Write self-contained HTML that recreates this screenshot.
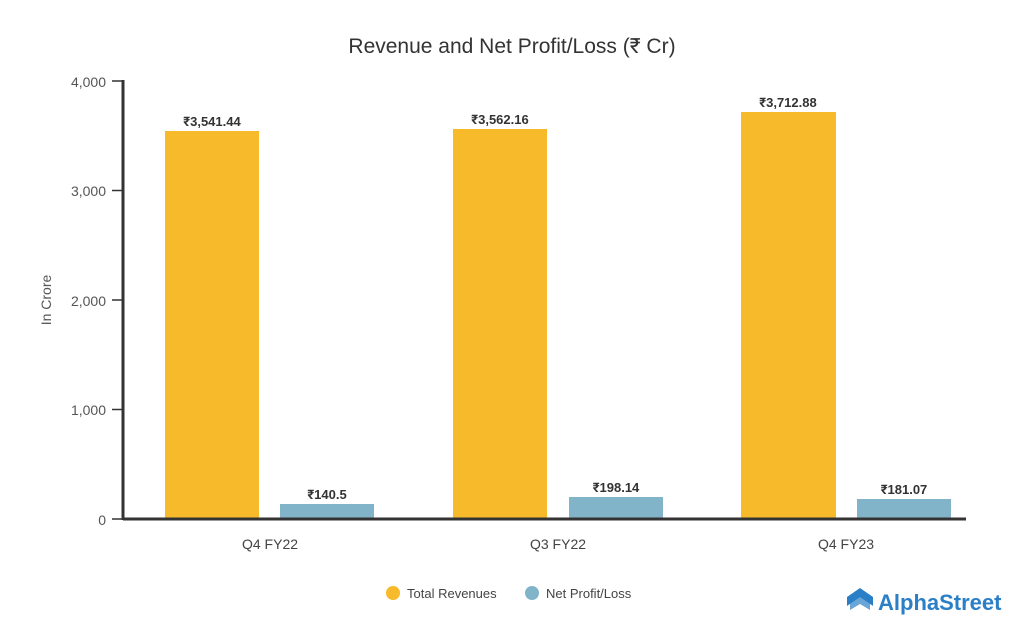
<!DOCTYPE html>
<html><head><meta charset="utf-8"><style>
body{margin:0;background:#fff;}
svg{display:block;font-family:"Liberation Sans",Roboto,sans-serif;}
</style></head><body>
<svg width="1024" height="640" viewBox="0 0 1024 640">
<text x="512" y="53" text-anchor="middle" font-size="21" fill="#333">Revenue and Net Profit/Loss (₹ Cr)</text>
<g font-size="14" fill="#555" text-anchor="end">
<text x="106" y="87">4,000</text>
<text x="106" y="196">3,000</text>
<text x="106" y="306">2,000</text>
<text x="106" y="415">1,000</text>
<text x="106" y="525">0</text>
</g>
<g stroke="#333" stroke-width="1.5">
<line x1="112" y1="81" x2="123" y2="81"/><line x1="112" y1="190.5" x2="123" y2="190.5"/>
<line x1="112" y1="300" x2="123" y2="300"/><line x1="112" y1="409.5" x2="123" y2="409.5"/>
<line x1="112" y1="519" x2="123" y2="519"/>
</g>
<line x1="123" y1="80" x2="123" y2="520" stroke="#333" stroke-width="3"/>
<text transform="translate(51,300) rotate(-90)" text-anchor="middle" font-size="14" fill="#555">In Crore</text>
<g fill="#F7BA2A">
<rect x="165" y="131" width="94" height="388"/>
<rect x="453" y="129" width="94" height="390"/>
<rect x="741" y="112" width="95" height="407"/>
</g>
<g fill="#82B4C9">
<rect x="280" y="504" width="94" height="15"/>
<rect x="569" y="497" width="94" height="22"/>
<rect x="857" y="499" width="94" height="20"/>
</g>
<line x1="123" y1="519" x2="966" y2="519" stroke="#333" stroke-width="3"/>
<g font-size="13" font-weight="bold" fill="#333" text-anchor="middle">
<text x="212" y="126">₹3,541.44</text>
<text x="500" y="124">₹3,562.16</text>
<text x="788" y="107">₹3,712.88</text>
<text x="327" y="499">₹140.5</text>
<text x="616" y="492">₹198.14</text>
<text x="904" y="494">₹181.07</text>
</g>
<g font-size="14" fill="#444" text-anchor="middle">
<text x="270" y="549">Q4 FY22</text>
<text x="558" y="549">Q3 FY22</text>
<text x="846" y="549">Q4 FY23</text>
</g>
<circle cx="393" cy="593" r="7" fill="#F7BA2A"/>
<text x="407" y="598" font-size="13" fill="#444">Total Revenues</text>
<circle cx="532" cy="593" r="7" fill="#82B4C9"/>
<text x="546" y="598" font-size="13" fill="#444">Net Profit/Loss</text>
<g fill="#2a7fc6">
<path d="M847 597 L860 588 L873 597 L873 606 L860 597 L847 606Z"/>
<path d="M850 603 L860 596 L870 603 L870 610 L860 604 L850 610Z" opacity="0.7"/>
</g>
<text x="878" y="610" font-size="22" font-weight="bold" fill="#2a7fc6">AlphaStreet</text>
</svg>
</body></html>
